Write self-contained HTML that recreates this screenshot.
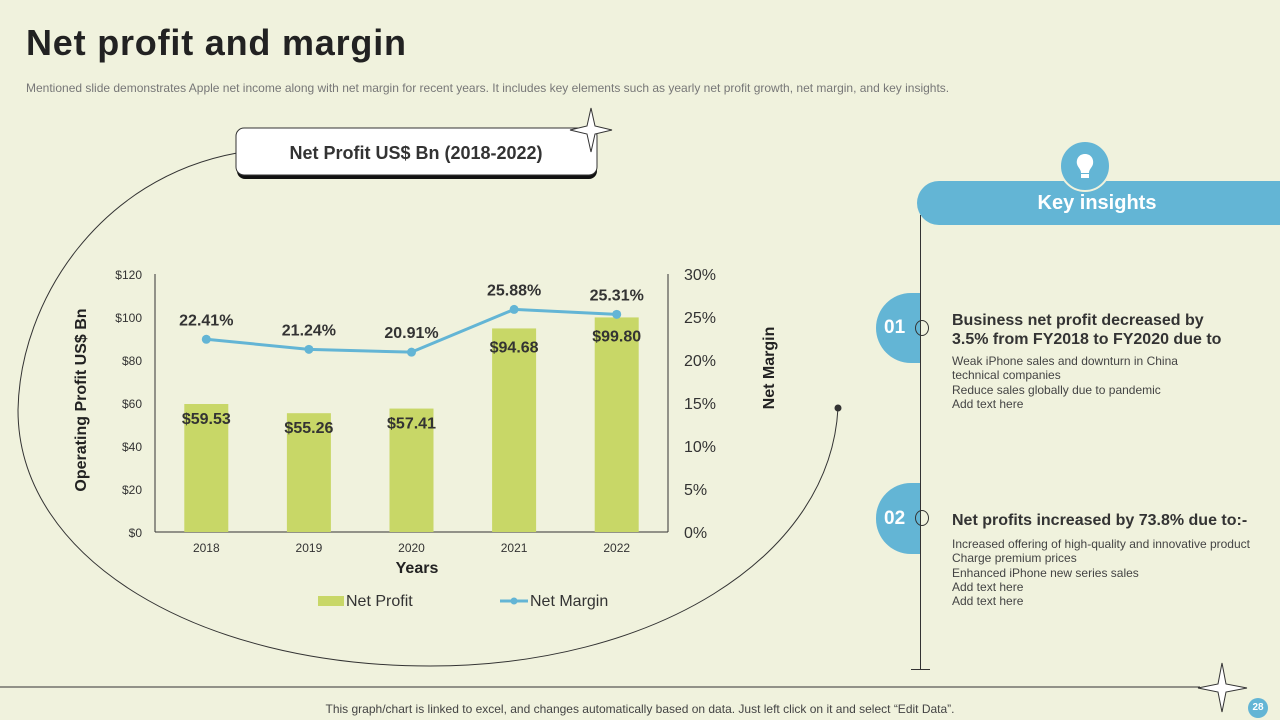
<!DOCTYPE html>
<html><head><meta charset="utf-8">
<style>
body{margin:0;width:1280px;height:720px;background:#f0f2dd;font-family:"Liberation Sans",sans-serif;overflow:hidden;position:relative}
.abs{position:absolute}
</style></head><body>
<div class="abs" style="left:26px;top:22px;font-size:36px;font-weight:bold;color:#222;letter-spacing:0.8px">Net profit and margin</div>
<div class="abs" style="left:26px;top:81px;font-size:12px;color:#777">Mentioned slide demonstrates Apple net income along with net margin for recent years. It includes key elements such as yearly net profit growth, net margin, and key insights.</div>

<svg class="abs" style="left:0;top:0" width="1280" height="720">
  <path d="M237,153 C100,178 20,300 18,410 C18,560 200,666 430,666 C650,666 830,560 838,408" fill="none" stroke="#333" stroke-width="1"/>
  <circle cx="838" cy="408" r="3.5" fill="#333"/>
  <rect x="237" y="131" width="360" height="48" rx="8" fill="#111"/>
  <rect x="236" y="128" width="361" height="47" rx="8" fill="#fff" stroke="#333"/>
  <text x="416" y="159" text-anchor="middle" font-size="18" font-weight="bold" fill="#333">Net Profit US$ Bn (2018-2022)</text>
  <path d="M591,108 L595,126 L612,130 L595,134 L591,152 L587,134 L570,130 L587,126 Z" fill="#fff" stroke="#333"/>
  <path d="M1222,663 L1226,684 L1247,688 L1226,692 L1222,712 L1218,692 L1198,688 L1218,684 Z" fill="#fff" stroke="#333"/>
  <line x1="0" y1="687" x2="1200" y2="687" stroke="#333"/>
  <g id="plot"></g>
</svg>

<div class="abs" style="left:917px;top:181px;width:380px;height:44px;background:#63b5d5;border-radius:22px 0 0 22px;color:#fff;font-size:20px;font-weight:bold;text-align:center;line-height:44px;padding-right:20px;box-sizing:border-box">Key insights</div>
<div class="abs" style="left:1059px;top:140px;width:48px;height:48px;border-radius:50%;background:#63b5d5;border:2px solid #f0f2dd">
  <svg width="48" height="48"><path d="M24,12 C18,12 15,17 16,22 C17,26 20,27 20,31 L28,31 C28,27 31,26 32,22 C33,17 30,12 24,12 Z" fill="#fff"/><rect x="20" y="32" width="8" height="4" fill="#fff"/></svg>
</div>
<div class="abs" style="left:920px;top:215px;width:1px;height:455px;background:#333"></div>
<div class="abs" style="left:911px;top:669px;width:19px;height:1px;background:#333"></div>

<div class="abs" style="left:876px;top:293px;width:36px;height:70px;background:#63b5d5;border-radius:35px 0 0 35px;color:#fff;font-weight:bold;font-size:19px;line-height:70px;padding-left:8px">01</div>
<div class="abs" style="left:915px;top:320px;width:12px;height:14px;border:1px solid #333;border-radius:50%"></div>
<div class="abs" style="left:952px;top:311px;font-size:16px;font-weight:bold;color:#333;line-height:19px">Business net profit decreased by<br>3.5% from FY2018 to FY2020 due to</div>
<div class="abs" style="left:952px;top:354px;font-size:12px;color:#444;line-height:14.3px">Weak iPhone sales and downturn in China<br>technical companies<br>Reduce sales globally due to pandemic<br>Add text here</div>

<div class="abs" style="left:876px;top:483px;width:36px;height:71px;background:#63b5d5;border-radius:35px 0 0 35px;color:#fff;font-weight:bold;font-size:19px;line-height:71px;padding-left:8px">02</div>
<div class="abs" style="left:915px;top:510px;width:12px;height:14px;border:1px solid #333;border-radius:50%"></div>
<div class="abs" style="left:952px;top:512px;font-size:16px;font-weight:bold;color:#333">Net profits increased by 73.8% due to:-</div>
<div class="abs" style="left:952px;top:537px;font-size:12px;color:#444;line-height:14.3px">Increased offering of high-quality and innovative product<br>Charge premium prices<br>Enhanced iPhone new series sales<br>Add text here<br>Add text here</div>

<div class="abs" style="left:0;width:1280px;top:702px;text-align:center;font-size:12px;color:#444">This graph/chart is linked to excel, and changes automatically based on data. Just left click on it and select “Edit Data”.</div>
<div class="abs" style="left:1248px;top:698px;width:20px;height:20px;border-radius:50%;background:#63b5d5;color:#fff;font-size:10px;text-align:center;line-height:20px;font-weight:bold">28</div>

<script>
const years=["2018","2019","2020","2021","2022"];
const profit=[59.53,55.26,57.41,94.68,99.80];
const margin=[22.41,21.24,20.91,25.88,25.31];
const leftTicks=[0,20,40,60,80,100,120];
const rightTicks=[0,5,10,15,20,25,30];
const NS="http://www.w3.org/2000/svg";
const g=document.getElementById('plot');
const X0=155,X1=668,Y0=532,Y1=274;
const band=(X1-X0)/years.length;
const xc=i=>X0+band*(i+0.5);
const yL=v=>Y0-(v/120)*(Y0-Y1);
const yR=v=>Y0-(v/30)*(Y0-Y1);
function el(t,a,txt){const e=document.createElementNS(NS,t);for(const k in a)e.setAttribute(k,a[k]);if(txt!==undefined)e.textContent=txt;g.appendChild(e);return e;}
let e;
e=el('line',{x1:X0,y1:Y1,x2:X0,y2:Y0,stroke:'#333'});


e=el('line',{x1:X1,y1:Y1,x2:X1,y2:Y0,stroke:'#333'});


e=el('line',{x1:X0,y1:Y0,x2:X1,y2:Y0,stroke:'#333'});


leftTicks.forEach(v=>{e=el('text',{x:142,y:yL(v)+5,'text-anchor':'end','font-size':12,fill:'#333'},'$'+v);

});
rightTicks.forEach(v=>{e=el('text',{x:684,y:yR(v)+6,'font-size':16,fill:'#333'},v+'%');

});
years.forEach((y,i)=>{
 const h=Y0-yL(profit[i]);
 e=el('rect',{x:xc(i)-22,y:yL(profit[i]),width:44,height:h,fill:'#c8d767'});
 
 
 e=el('text',{x:xc(i),y:Y0+20,'text-anchor':'middle','font-size':12,fill:'#333'},y);
 
 
 const ly=profit[i]>80?yL(profit[i])+24:yL(profit[i])+20;
 e=el('text',{x:xc(i),y:ly,'text-anchor':'middle','font-size':16,'font-weight':'bold',fill:'#333'},'$'+profit[i].toFixed(2));
 
 
});
e=el('polyline',{points:margin.map((m,i)=>xc(i)+','+yR(m)).join(' '),fill:'none',stroke:'#63b5d5','stroke-width':3});


margin.forEach((m,i)=>{
 e=el('circle',{cx:xc(i),cy:yR(m),r:4.5,fill:'#63b5d5'});
 
 
 e=el('text',{x:xc(i),y:yR(m)-14,'text-anchor':'middle','font-size':16,'font-weight':'bold',fill:'#333'},m.toFixed(2)+'%');
 
 
});
e=el('text',{x:417,y:573,'text-anchor':'middle','font-size':16,'font-weight':'bold',fill:'#222'},'Years');


e=el('text',{x:0,y:0,'text-anchor':'middle','font-size':16,'font-weight':'bold',fill:'#222',transform:'translate(86,400) rotate(-90)'},'Operating Profit US$ Bn');


e=el('text',{x:0,y:0,'text-anchor':'middle','font-size':16,'font-weight':'bold',fill:'#222',transform:'translate(774,368) rotate(-90)'},'Net Margin');


e=el('rect',{x:318,y:596,width:26,height:10,fill:'#c8d767'});


e=el('text',{x:346,y:606,'font-size':16,fill:'#333'},'Net Profit');


e=el('line',{x1:500,y1:601,x2:528,y2:601,stroke:'#63b5d5','stroke-width':3});


e=el('circle',{cx:514,cy:601,r:3.5,fill:'#63b5d5'});


e=el('text',{x:530,y:606,'font-size':16,fill:'#333'},'Net Margin');


</script>
</body></html>
